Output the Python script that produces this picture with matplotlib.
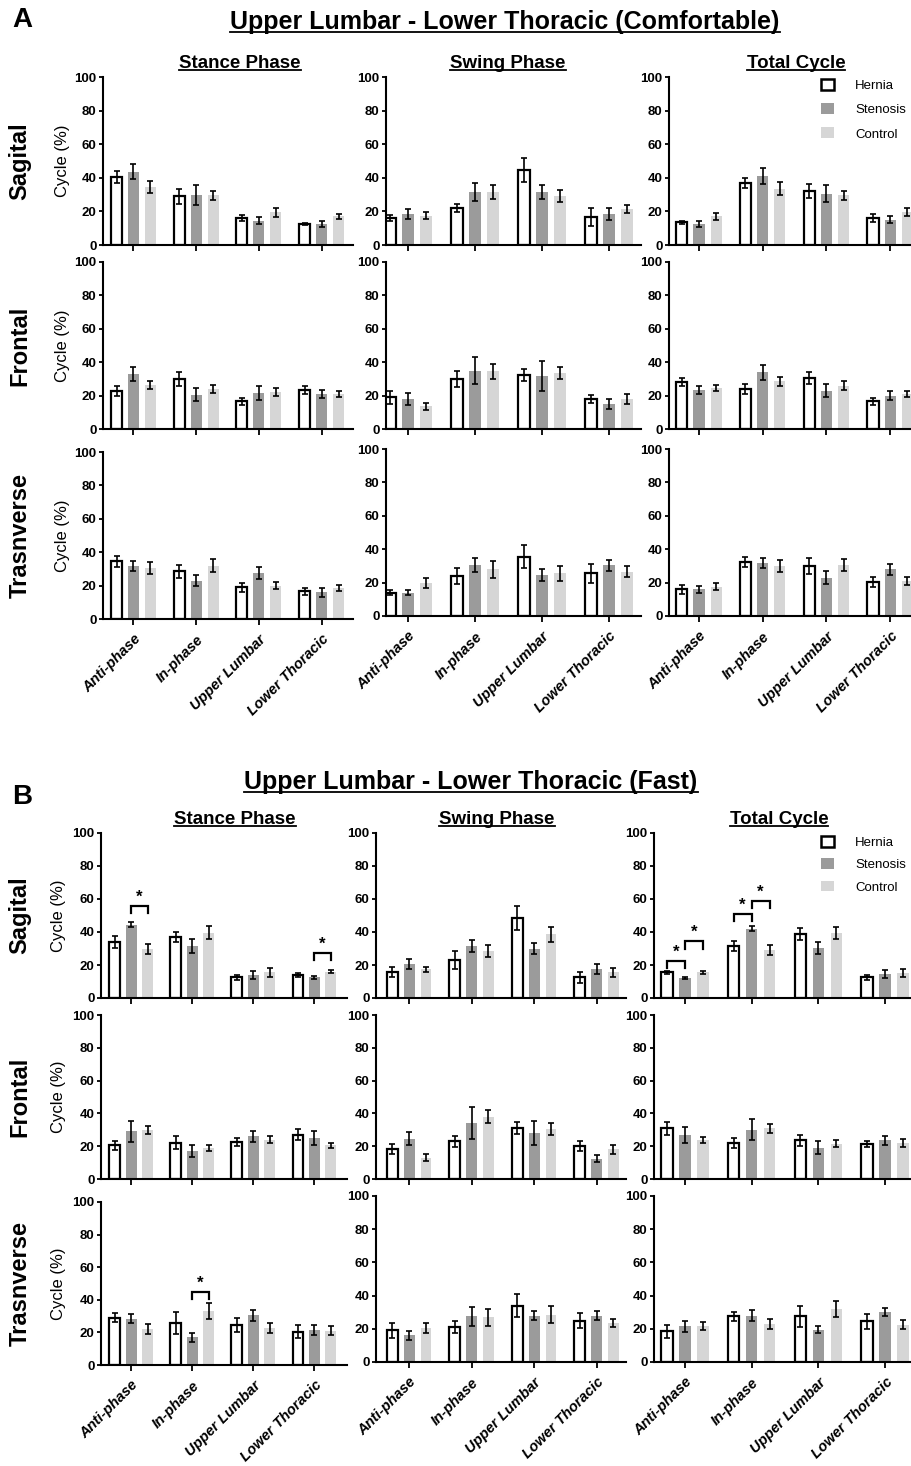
import numpy as np
import matplotlib
matplotlib.use("Agg")
import matplotlib.pyplot as plt
from matplotlib.lines import Line2D
from matplotlib.patches import Patch

# ---------------- data ----------------
categories = ["Anti-phase", "In-phase", "Upper Lumbar", "Lower Thoracic"]
groups = ["Hernia", "Stenosis", "Control"]
phases = ["Stance Phase", "Swing Phase", "Total Cycle"]
planes = ["Sagital", "Frontal", "Trasnverse"]
yticks = [0, 20, 40, 60, 80, 100]

# Comfortable speed (panel A); rows: Hernia, Stenosis, Control
comf_sag_stance = [[40.5, 29, 16, 12.5], [43.5, 30, 14.5, 12.5], [34.5, 29.5, 19.5, 17]]
comf_sag_stance_sem = [[3.5, 4.5, 2, 0.8], [4.5, 6, 2, 2], [3.5, 2.5, 2.8, 1.7]]
comf_sag_swing = [[16, 22, 44.5, 16.5], [18.5, 31.5, 31.5, 18.5], [17.5, 31.5, 29, 21.5]]
comf_sag_swing_sem = [[1.7, 2.2, 7, 5.3], [3, 5.3, 4, 3.5], [2, 4, 3.5, 2.5]]
comf_sag_total = [[13.5, 37, 32, 16], [12.5, 41, 30.5, 15], [17, 33.5, 29.5, 19.5]]
comf_sag_total_sem = [[1, 3, 4.3, 2.3], [1.5, 4.8, 5, 2], [2, 4, 2.5, 2.5]]
comf_fro_stance = [[22.5, 30, 16.5, 23.5], [33, 20.5, 21.5, 21], [26.5, 24, 22, 21]]
comf_fro_stance_sem = [[3, 4, 2.2, 2.5], [4, 4, 4, 2.2], [2.5, 2.5, 2.3, 2]]
comf_fro_swing = [[19, 30, 32.5, 18], [18, 35, 32, 15], [13.5, 34.5, 33.5, 18]]
comf_fro_swing_sem = [[4, 5, 3.5, 2.5], [3.5, 8.3, 9, 3.2], [2.2, 4.7, 3.5, 3]]
comf_fro_total = [[28, 24, 30.5, 16.5], [23.5, 34, 23, 20], [24.5, 28.5, 26, 21]]
comf_fro_total_sem = [[2.5, 3, 3.8, 2.2], [2.5, 4.5, 4, 2.8], [2, 2.7, 2.5, 2]]
comf_tra_stance = [[34.5, 28.5, 19, 16.5], [32, 23, 27.5, 16], [30.5, 32, 20, 18.5]]
comf_tra_stance_sem = [[3.3, 4, 2.8, 2.3], [3, 3.5, 3.8, 2.7], [3.5, 3.7, 2.3, 2]]
comf_tra_swing = [[14, 24, 35.5, 25.5], [14, 30.5, 24.5, 30.5], [20, 28, 25.5, 26.5]]
comf_tra_swing_sem = [[1.5, 4.7, 6.8, 5.5], [1.5, 4, 3.5, 3.3], [3, 5, 4.5, 3.3]]
comf_tra_total = [[16, 32.5, 30, 20.5], [16, 32, 23, 28], [17.5, 30, 30.5, 21]]
comf_tra_total_sem = [[2.7, 3, 4.6, 3], [2, 3, 4, 3.3], [2, 3.5, 3.8, 2.3]]

# Fast speed (panel B)
fast_sag_stance = [[34, 37, 12.5, 14], [44.5, 31.5, 14, 12.5], [29.5, 39.5, 15.5, 16]]
fast_sag_stance_sem = [[3.5, 3, 1.7, 1.2], [1.7, 4, 2.5, 0.7], [3, 4, 2.7, 1]]
fast_sag_swing = [[15.5, 23, 48.5, 12.5], [20.5, 31.5, 30, 17.5], [17.5, 28.5, 38.5, 15.5]]
fast_sag_swing_sem = [[3, 5.5, 7.3, 3.5], [3, 3.5, 3.5, 3], [1.5, 3.5, 4.5, 2.7]]
fast_sag_total = [[15.5, 31.5, 39, 12.5], [12, 42, 30.5, 14.5], [15.5, 29, 39.5, 15]]
fast_sag_total_sem = [[0.8, 3.3, 3.7, 1.7], [0.5, 1.5, 3.7, 2.2], [1, 3, 3.5, 2.5]]
fast_fro_stance = [[20.5, 22, 22.5, 27], [29, 17, 26, 25], [30, 19, 24, 20.5]]
fast_fro_stance_sem = [[2.8, 4, 2.5, 3.2], [6.2, 3.5, 3.2, 4.2], [2.5, 2, 2.3, 1.5]]
fast_fro_swing = [[18.5, 23, 31, 20], [24.5, 34, 28, 12.5], [13, 38, 30.5, 18]]
fast_fro_swing_sem = [[3, 3.2, 3.5, 3], [4, 9.7, 7.5, 2.3], [2, 4, 3.5, 2.7]]
fast_fro_total = [[31, 22, 23.5, 21.5], [27, 30, 19, 23.5], [24, 31, 21.5, 22]]
fast_fro_total_sem = [[4, 2.8, 3.5, 1.8], [5, 6.5, 4, 2.5], [1.8, 2.7, 2.2, 2.2]]
fast_tra_stance = [[29, 26, 24.5, 20.5], [28.5, 17, 30.5, 21.5], [22, 33, 22.5, 21]]
fast_tra_stance_sem = [[2.7, 6.7, 4.5, 4], [2.8, 2.8, 3.2, 3.2], [3.2, 5, 3, 2.8]]
fast_tra_swing = [[19, 21, 34, 25], [16, 27.5, 28, 28], [20.5, 27, 28.5, 23.5]]
fast_tra_swing_sem = [[4.5, 3.7, 6.8, 4.7], [2.5, 5.7, 2.5, 2.5], [3, 5.2, 5.2, 2.7]]
fast_tra_total = [[18.5, 27.5, 27.5, 24.5], [21.5, 28, 19.5, 30], [21.5, 23, 32, 22.5]]
fast_tra_total_sem = [[4, 2.5, 6.5, 4.5], [3.5, 3.2, 2.3, 2.5], [2.5, 3.2, 5, 2.8]]

# significance brackets: (row, col, category, group_a, group_b, bracket level)
fast_sig = [(0, 0, 0, 1, 2, 56), (0, 0, 3, 1, 2, 27.5),
            (0, 2, 0, 0, 1, 22.5), (0, 2, 0, 1, 2, 34.5),
            (0, 2, 1, 0, 1, 51), (0, 2, 1, 1, 2, 59),
            (2, 0, 1, 1, 2, 45)]
comf_sig = []

comf_means = [[comf_sag_stance, comf_sag_swing, comf_sag_total],
              [comf_fro_stance, comf_fro_swing, comf_fro_total],
              [comf_tra_stance, comf_tra_swing, comf_tra_total]]
comf_sems = [[comf_sag_stance_sem, comf_sag_swing_sem, comf_sag_total_sem],
             [comf_fro_stance_sem, comf_fro_swing_sem, comf_fro_total_sem],
             [comf_tra_stance_sem, comf_tra_swing_sem, comf_tra_total_sem]]
fast_means = [[fast_sag_stance, fast_sag_swing, fast_sag_total],
              [fast_fro_stance, fast_fro_swing, fast_fro_total],
              [fast_tra_stance, fast_tra_swing, fast_tra_total]]
fast_sems = [[fast_sag_stance_sem, fast_sag_swing_sem, fast_sag_total_sem],
             [fast_fro_stance_sem, fast_fro_swing_sem, fast_fro_total_sem],
             [fast_tra_stance_sem, fast_tra_swing_sem, fast_tra_total_sem]]

# ---------------- style ----------------
W, H = 912, 1466
NARROW = ["Liberation Sans Narrow", "Liberation Sans", "DejaVu Sans"]
ARIAL = ["Liberation Sans", "DejaVu Sans"]
face_colors = ["white", "#9b9b9b", "#d6d6d6"]
edge_colors = ["black", "#9b9b9b", "#d6d6d6"]
edge_widths = [1.6, 0, 0]

fig = plt.figure(figsize=(W / 100, H / 100), dpi=100)
underline_texts = []


def rect(x0, x1, ytop, ybot):
    return [x0 / W, 1 - ybot / H, (x1 - x0) / W, (ybot - ytop) / H]


def ftext(x, y, s, underline=False, **kw):
    t = fig.text(x / W, 1 - y / H, s, **kw)
    if underline:
        underline_texts.append(t)
    return t


def draw_panel(means, sems, sig, col_x, row_y, legend_y, legend_spacing):
    for r in range(3):
        for c in range(3):
            x0, x1, xl, xr = col_x[c]
            yt, yb = row_y[r][c]
            ax = fig.add_axes(rect(x0, x1, yt, yb))
            m = np.array(means[r][c])
            e = np.array(sems[r][c])
            x = np.arange(len(categories))
            for g in range(3):
                xs = x + (g - 1) * 0.27
                ax.bar(xs, m[g], width=0.175, color=face_colors[g],
                       edgecolor=edge_colors[g], linewidth=edge_widths[g], zorder=2)
                ax.errorbar(xs, m[g], yerr=e[g], fmt="none", ecolor="black",
                            elinewidth=1.2, capsize=2.2, capthick=1.2, zorder=3)
            for (rr, cc, cat, ga, gb, lvl) in sig:
                if rr == r and cc == c:
                    xa = cat + (ga - 1) * 0.27
                    xb = cat + (gb - 1) * 0.27
                    ax.plot([xa, xa, xb, xb], [lvl - 4.5, lvl, lvl, lvl - 4.5],
                            color="black", lw=1.6, zorder=4, solid_joinstyle="miter")
                    ax.text((xa + xb) / 2, lvl + 0.5, "*", ha="center", va="bottom",
                            fontsize=12, fontweight="bold", family=ARIAL)
            ax.set_xlim(xl, xr)
            ax.set_ylim(0, 100)
            ax.set_yticks(yticks)
            ax.set_xticks(x)
            for s in ["top", "right"]:
                ax.spines[s].set_visible(False)
            for s in ["left", "bottom"]:
                ax.spines[s].set_linewidth(1.5)
            ax.tick_params(axis="y", length=3, width=1.3, pad=1.5)
            ax.tick_params(axis="x", length=4.5, width=1.3)
            for lab in ax.get_yticklabels():
                lab.set_family(NARROW)
                lab.set_fontweight("bold")
                lab.set_fontsize(9.5)
            if r == 2:
                ax.set_xticklabels(categories, rotation=45, ha="right",
                                   rotation_mode="anchor", family=ARIAL,
                                   fontsize=10.5, fontweight="bold", style="italic")
                ax.tick_params(axis="x", pad=5)
            else:
                ax.set_xticklabels([])
            if r == 0 and c == 2:
                handles = [Patch(facecolor=face_colors[g],
                                 edgecolor="black" if g == 0 else face_colors[g],
                                 linewidth=1.8 if g == 0 else 0) for g in range(3)]
                fig.legend(handles, groups, loc="upper left",
                           bbox_to_anchor=(821 / W, 1 - legend_y / H),
                           frameon=False, handlelength=1.0, handleheight=0.9,
                           handletextpad=1.6, labelspacing=legend_spacing,
                           borderpad=0, borderaxespad=0,
                           prop={"family": NARROW, "size": 9.5})


# ---------------- Panel A ----------------
colA = [(102.7, 353, -0.49, 3.5), (386, 641, -0.33, 3.48), (669, 922, -0.47, 3.5)]
rowA = [[(77, 245)] * 3, [(262, 429)] * 3, [(452, 619), (449, 616), (449, 616)]]
draw_panel(comf_means, comf_sems, comf_sig, colA, rowA, 79, 0.85)

# ---------------- Panel B ----------------
colB = [(100.7, 346.7, -0.5, 3.53), (376, 626, -0.53, 3.47), (654, 922, -0.46, 3.55)]
rowB = [[(833, 998)] * 3, [(1015, 1179)] * 3, [(1202, 1365), (1196, 1362), (1196, 1362)]]
draw_panel(fast_means, fast_sems, fast_sig, colB, rowB, 836, 0.7)

# ---------------- texts ----------------
ftext(22, 20, "A", ha="center", va="center", family=ARIAL, fontsize=20, fontweight="bold")
ftext(22, 797, "B", ha="center", va="center", family=ARIAL, fontsize=20, fontweight="bold")
ftext(505, 29, "Upper Lumbar - Lower Thoracic (Comfortable)", underline=True, ha="center",
      va="baseline", family=NARROW, fontsize=18, fontweight="bold")
ftext(471, 789, "Upper Lumbar - Lower Thoracic (Fast)", underline=True, ha="center",
      va="baseline", family=NARROW, fontsize=18, fontweight="bold")
for name, xa, xb in zip(phases, [240, 508, 796], [235, 497, 779]):
    ftext(xa, 68, name, underline=True, ha="center", va="baseline", family=NARROW,
          fontsize=13.5, fontweight="bold")
    ftext(xb, 824, name, underline=True, ha="center", va="baseline", family=NARROW,
          fontsize=13.5, fontweight="bold")
for i, p in enumerate(planes):
    for rows, lx, cx in [(rowA, 20, 63), (rowB, 20, 58)]:
        yt, yb = rows[i][0]
        yc = (yt + yb) / 2
        ftext(lx, yc, p, ha="center", va="center", rotation=90, family=ARIAL,
              fontsize=17, fontweight="bold")
        ftext(cx, yc, "Cycle (%)", ha="center", va="center", rotation=90, family=ARIAL,
              fontsize=12)

# underlines
fig.canvas.draw()
renderer = fig.canvas.get_renderer()
for t in underline_texts:
    bb = t.get_window_extent(renderer)
    xpos, ypos = t.get_position()
    size_px = t.get_fontsize() * 100 / 72
    ybase = ypos - (0.12 * size_px) / H
    fig.add_artist(Line2D([bb.x0 / W, bb.x1 / W], [ybase, ybase], color="black",
                          lw=1.3, transform=fig.transFigure))

fig.savefig("out.png", dpi=100)
